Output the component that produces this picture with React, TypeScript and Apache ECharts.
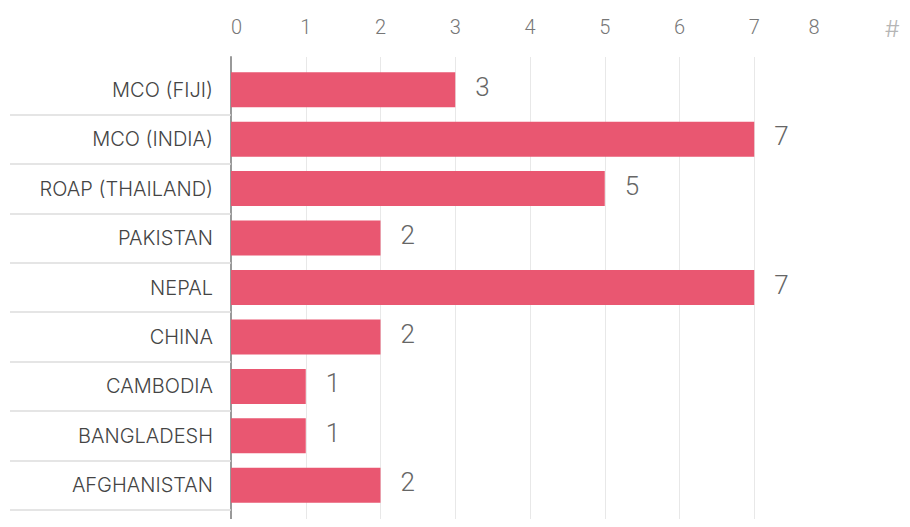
import React, { useEffect, useRef } from "react";
import * as echarts from "echarts";

const categories = [
  "MCO (FIJI)",
  "MCO (INDIA)",
  "ROAP (THAILAND)",
  "PAKISTAN",
  "NEPAL",
  "CHINA",
  "CAMBODIA",
  "BANGLADESH",
  "AFGHANISTAN",
];
const values = [3, 7, 5, 2, 7, 2, 1, 1, 2];
const axisMax = 8;
const axisUnit = "#";

export default function App() {
  const ref = useRef<HTMLDivElement>(null);
  useEffect(() => {
    if (!ref.current) return;
    const chart = echarts.init(ref.current, null, { renderer: "svg" });
    const font = "Roboto";
    const left = 231;
    const right = 81;
    chart.setOption({
      animation: false,
      grid: [
        { left, right, top: 65, bottom: 17 },
        { left, right, top: 57, bottom: 0 },
      ],
      graphic: [
        {
          type: "text",
          left: 885,
          top: 17,
          style: {
            text: axisUnit,
            fontFamily: "Inter",
            fontWeight: 300,
            fontSize: 23,
            fill: "#b5b5b5",
          },
        },
      ],
      xAxis: [
        {
          gridIndex: 0,
          type: "value",
          min: 0,
          max: axisMax,
          interval: 1,
          show: false,
        },
        {
          gridIndex: 1,
          type: "value",
          position: "top",
          min: 0,
          max: axisMax,
          interval: 1,
          axisLine: { show: false, onZero: false },
          axisTick: { show: false },
          splitLine: {
            show: true,
            showMinLine: false,
            showMaxLine: false,
            lineStyle: { color: "#e8e8e8", width: 1 },
          },
          axisLabel: {
            margin: 20,
            fontFamily: font,
            fontWeight: 300,
            fontSize: 20,
            color: "#777",
            alignMinLabel: "left",
            formatter: (v: number) => (v === axisMax ? "{e|" + v + "}" : String(v)),
            rich: {
              e: {
                fontFamily: font,
                fontWeight: 300,
                fontSize: 20,
                color: "#777",
                padding: [0, 30, 0, 0],
              },
            },
          },
        },
      ],
      yAxis: [
        {
          gridIndex: 0,
          type: "category",
          data: categories,
          inverse: true,
          axisLine: { show: false },
          axisTick: {
            show: true,
            length: 221,
            interval: (i: number) => i !== 0,
            lineStyle: { color: "#ddd", width: 1.5 },
          },
          axisLabel: {
            margin: 18,
            fontFamily: "Inter",
            fontWeight: 300,
            fontSize: 20,
            color: "#444",
          },
        },
        {
          gridIndex: 1,
          type: "value",
          min: 0,
          max: 1,
          axisLine: { show: true, onZero: false, lineStyle: { color: "#999", width: 2 } },
          axisTick: { show: false },
          axisLabel: { show: false },
          splitLine: { show: false },
        },
      ],
      series: [
        {
          type: "bar",
          xAxisIndex: 0,
          yAxisIndex: 0,
          data: values,
          barWidth: 35,
          itemStyle: { color: "#E95771" },
          label: {
            show: true,
            position: "right",
            distance: 20,
            fontFamily: font,
            fontWeight: 300,
            fontSize: 26,
            color: "#666",
            offset: [0, -3],
          },
        },
      ],
    });
    return () => chart.dispose();
  }, []);
  return <div ref={ref} style={{ width: 910, height: 527, margin: -8 }} />;
}
